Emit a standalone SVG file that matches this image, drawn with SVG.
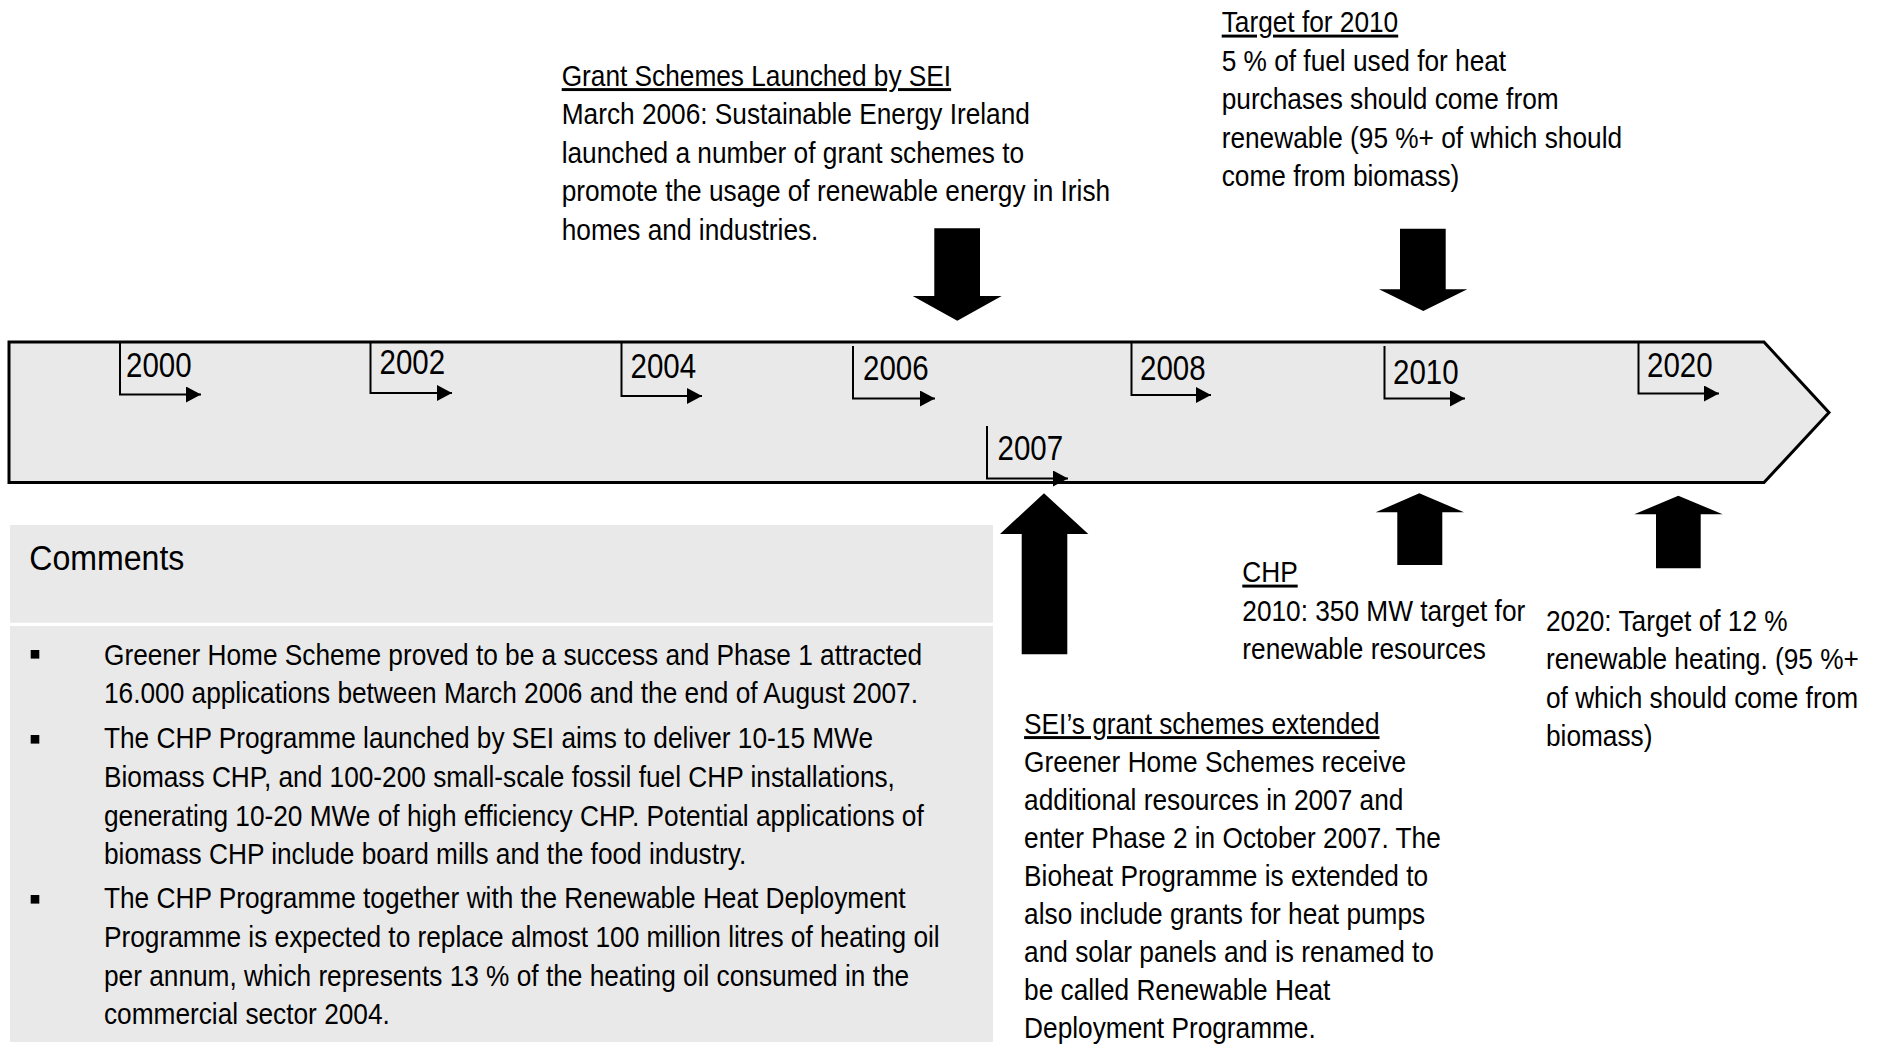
<svg xmlns="http://www.w3.org/2000/svg" width="1878" height="1044" viewBox="0 0 1878 1044">
<defs>
<style>
.t{font-family:"Liberation Sans",Arial,sans-serif;font-size:29.5px;fill:#000}
.yr{font-family:"Liberation Sans",Arial,sans-serif;font-size:36px;fill:#000}
.hd{font-family:"Liberation Sans",Arial,sans-serif;font-size:35px;fill:#000}
.u{text-decoration:underline}
.tick{fill:none;stroke:#000;stroke-width:2;marker-end:url(#ah)}
.blk{fill:#000;stroke:none}
.panel{fill:#e9e9e9;stroke:none}
</style>
<marker id="ah" viewBox="0 0 15 16" refX="15" refY="8" markerWidth="15" markerHeight="16" markerUnits="userSpaceOnUse" orient="auto">
<path d="M0,0 L15,8 L0,16 z" fill="#000"/>
</marker>
</defs>
<rect width="1878" height="1044" fill="#fff"/>

<g id="timeline">
<polygon points="9,342 1764,342 1829,412.5 1764,482.5 9,482.5" fill="#e9e9e9" stroke="#000" stroke-width="3" stroke-linejoin="miter"/>
</g>

<g id="year-2000"><polyline class="tick" points="120,342 120,394.5 201,394.5"/><text class="yr" transform="matrix(0.82,0,0,1,126,377)">2000</text></g>
<g id="year-2002"><polyline class="tick" points="370.5,342 370.5,393 452,393"/><text class="yr" transform="matrix(0.82,0,0,1,379.5,373.5)">2002</text></g>
<g id="year-2004"><polyline class="tick" points="621.5,342 621.5,396 702,396"/><text class="yr" transform="matrix(0.82,0,0,1,630.5,377.5)">2004</text></g>
<g id="year-2006"><polyline class="tick" points="853,346 853,398.5 935,398.5"/><text class="yr" transform="matrix(0.82,0,0,1,863,380)">2006</text></g>
<g id="year-2007"><polyline class="tick" points="987,426 987,478.5 1068,478.5"/><text class="yr" transform="matrix(0.82,0,0,1,997.5,460)">2007</text></g>
<g id="year-2008"><polyline class="tick" points="1131.5,342 1131.5,395 1211,395"/><text class="yr" transform="matrix(0.82,0,0,1,1140,379.5)">2008</text></g>
<g id="year-2010"><polyline class="tick" points="1384.5,346 1384.5,398.5 1465,398.5"/><text class="yr" transform="matrix(0.82,0,0,1,1393,383.5)">2010</text></g>
<g id="year-2020"><polyline class="tick" points="1638.5,342 1638.5,393.5 1719,393.5"/><text class="yr" transform="matrix(0.82,0,0,1,1647,377)">2020</text></g>

<g id="connectors">
<polygon class="blk" points="934.3,228.3 980,228.3 980,296 1001.7,296 957.3,320.7 912.7,296 934.3,296"/>
<polygon class="blk" points="1400,228.7 1445.7,228.7 1445.7,289.3 1467.3,289.3 1423.3,311 1379,289.3 1400,289.3"/>
<polygon class="blk" points="1044,493.3 1088.3,534 1067.3,534 1067.3,654.3 1021.7,654.3 1021.7,534 1000,534"/>
<polygon class="blk" points="1419.3,493.3 1464,512.3 1442.3,512.3 1442.3,565 1397.3,565 1397.3,512.3 1375.7,512.3"/>
<polygon class="blk" points="1678.3,495.7 1722.7,514.3 1700.7,514.3 1700.7,568.3 1656,568.3 1656,514.3 1634.3,514.3"/>
</g>

<g id="note-grant-schemes" transform="matrix(0.89,0,0,1,561.7,0)">
<text class="t u" x="0" y="86">Grant Schemes Launched by SEI</text>
<text class="t" x="0" y="124.5">March 2006: Sustainable Energy Ireland</text>
<text class="t" x="0" y="163">launched a number of grant schemes to</text>
<text class="t" x="0" y="201.5">promote the usage of renewable energy in Irish</text>
<text class="t" x="0" y="240">homes and industries.</text>
</g>

<g id="note-target-2010" transform="matrix(0.89,0,0,1,1221.7,0)">
<text class="t u" x="0" y="32.5">Target for 2010</text>
<text class="t" x="0" y="71">5 % of fuel used for heat</text>
<text class="t" x="0" y="109.5">purchases should come from</text>
<text class="t" x="0" y="148">renewable (95 %+ of which should</text>
<text class="t" x="0" y="186.5">come from biomass)</text>
</g>

<g id="note-chp" transform="matrix(0.89,0,0,1,1242.3,0)">
<text class="t u" x="0" y="582.5">CHP</text>
<text class="t" x="0" y="621">2010: 350 MW target for</text>
<text class="t" x="0" y="659.5">renewable resources</text>
</g>

<g id="note-2020" transform="matrix(0.89,0,0,1,1546,0)">
<text class="t" x="0" y="631">2020: Target of 12 %</text>
<text class="t" x="0" y="669.5">renewable heating. (95 %+</text>
<text class="t" x="0" y="708">of which should come from</text>
<text class="t" x="0" y="746.5">biomass)</text>
</g>

<g id="note-grant-extended" transform="matrix(0.89,0,0,1,1024.1,0)">
<text class="t u" x="0" y="734">SEI’s grant schemes extended</text>
<text class="t" x="0" y="772">Greener Home Schemes receive</text>
<text class="t" x="0" y="810">additional resources in 2007 and</text>
<text class="t" x="0" y="848">enter Phase 2 in October 2007. The</text>
<text class="t" x="0" y="886">Bioheat Programme is extended to</text>
<text class="t" x="0" y="924">also include grants for heat pumps</text>
<text class="t" x="0" y="962">and solar panels and is renamed to</text>
<text class="t" x="0" y="1000">be called Renewable Heat</text>
<text class="t" x="0" y="1038">Deployment Programme.</text>
</g>

<g id="comments">
<rect class="panel" x="10" y="525" width="983" height="97.7"/>
<rect class="panel" x="10" y="626" width="983" height="416"/>
<text class="hd" transform="matrix(0.917,0,0,1,29.3,570)">Comments</text>
<rect class="blk" x="30.7" y="650" width="8.6" height="8.6"/>
<rect class="blk" x="30.7" y="735" width="8.6" height="8.6"/>
<rect class="blk" x="30.7" y="895" width="8.6" height="8.6"/>
<g transform="matrix(0.89,0,0,1,104,0)">
<text class="t" x="0" y="665">Greener Home Scheme proved to be a success and Phase 1 attracted</text>
<text class="t" x="0" y="703.5">16.000 applications between March 2006 and the end of August 2007.</text>
<text class="t" x="0" y="748">The CHP Programme launched by SEI aims to deliver 10-15 MWe</text>
<text class="t" x="0" y="787">Biomass CHP, and 100-200 small-scale fossil fuel CHP installations,</text>
<text class="t" x="0" y="826">generating 10-20 MWe of high efficiency CHP. Potential applications of</text>
<text class="t" x="0" y="864.5">biomass CHP include board mills and the food industry.</text>
<text class="t" x="0" y="908.5">The CHP Programme together with the Renewable Heat Deployment</text>
<text class="t" x="0" y="947.5">Programme is expected to replace almost 100 million litres of heating oil</text>
<text class="t" x="0" y="986.5">per annum, which represents 13 % of the heating oil consumed in the</text>
<text class="t" x="0" y="1024.5">commercial sector 2004.</text>
</g>
</g>
</svg>
